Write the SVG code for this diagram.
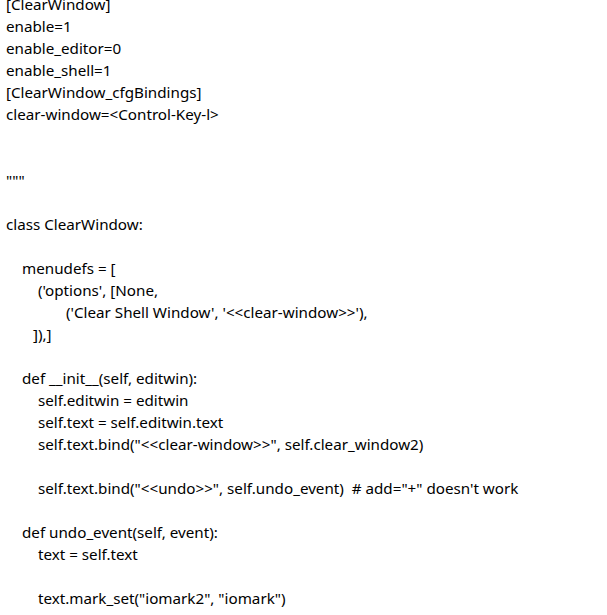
<svg xmlns="http://www.w3.org/2000/svg" width="607" height="615" viewBox="0 0 607 615">
<style>
text { font-family: "Noto Sans", "Open Sans", sans-serif; font-size: 15.2px; fill: #000; white-space: pre; }
</style>
<rect x="0" y="0" width="607" height="615" fill="#fff"/>
<g id="code">
<text x="6" y="10">[ClearWindow]</text>
<text x="6" y="32">enable=1</text>
<text x="6" y="54">enable_editor=0</text>
<text x="6" y="76">enable_shell=1</text>
<text x="6" y="98">[ClearWindow_cfgBindings]</text>
<text x="6" y="120">clear-window=&lt;Control-Key-l&gt;</text>
<text x="6" y="186">"""</text>
<text x="6" y="230">class ClearWindow:</text>
<text x="22" y="274">menudefs = [</text>
<text x="38" y="296">('options', [None,</text>
<text x="66" y="318">('Clear Shell Window', '&lt;&lt;clear-window&gt;&gt;'),</text>
<text x="33" y="340">]),]</text>
<text x="22" y="384">def __init__(self, editwin):</text>
<text x="38" y="406">self.editwin = editwin</text>
<text x="38" y="428">self.text = self.editwin.text</text>
<text x="38" y="450">self.text.bind("&lt;&lt;clear-window&gt;&gt;", self.clear_window2)</text>
<text x="38" y="494">self.text.bind("&lt;&lt;undo&gt;&gt;", self.undo_event)  # add="+" doesn't work</text>
<text x="22" y="538">def undo_event(self, event):</text>
<text x="38" y="560">text = self.text</text>
<text x="38" y="604">text.mark_set("iomark2", "iomark")</text>
<text x="38" y="626">text.mark_set("insert2", "insert")</text>
</g>
</svg>
